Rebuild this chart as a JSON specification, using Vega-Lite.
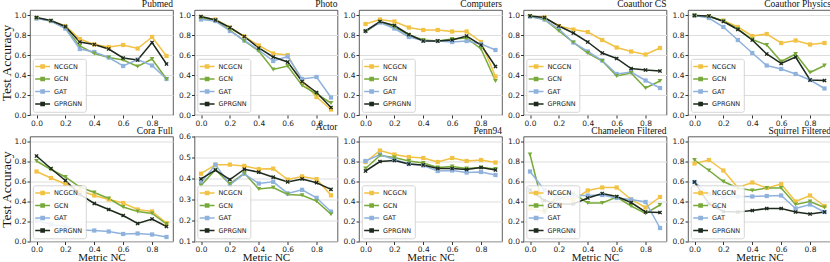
{
"$schema":"https://vega.github.io/schema/vega-lite/v6.json",
"padding":{"left":-2,"top":-2,"right":0,"bottom":0},
"datasets":{"d":[
{"d":"Pubmed","m":"NCGCN","x":0,"a":0.97},{"d":"Pubmed","m":"NCGCN","x":0.1,"a":0.94},{"d":"Pubmed","m":"NCGCN","x":0.2,"a":0.89},{"d":"Pubmed","m":"NCGCN","x":0.3,"a":0.76},{"d":"Pubmed","m":"NCGCN","x":0.4,"a":0.705},{"d":"Pubmed","m":"NCGCN","x":0.5,"a":0.68},{"d":"Pubmed","m":"NCGCN","x":0.6,"a":0.70},{"d":"Pubmed","m":"NCGCN","x":0.7,"a":0.665},{"d":"Pubmed","m":"NCGCN","x":0.8,"a":0.78},{"d":"Pubmed","m":"NCGCN","x":0.9,"a":0.59},
{"d":"Pubmed","m":"GCN","x":0,"a":0.97},{"d":"Pubmed","m":"GCN","x":0.1,"a":0.94},{"d":"Pubmed","m":"GCN","x":0.2,"a":0.87},{"d":"Pubmed","m":"GCN","x":0.3,"a":0.69},{"d":"Pubmed","m":"GCN","x":0.4,"a":0.615},{"d":"Pubmed","m":"GCN","x":0.5,"a":0.575},{"d":"Pubmed","m":"GCN","x":0.6,"a":0.55},{"d":"Pubmed","m":"GCN","x":0.7,"a":0.485},{"d":"Pubmed","m":"GCN","x":0.8,"a":0.56},{"d":"Pubmed","m":"GCN","x":0.9,"a":0.36},
{"d":"Pubmed","m":"GAT","x":0,"a":0.965},{"d":"Pubmed","m":"GAT","x":0.1,"a":0.94},{"d":"Pubmed","m":"GAT","x":0.2,"a":0.865},{"d":"Pubmed","m":"GAT","x":0.3,"a":0.66},{"d":"Pubmed","m":"GAT","x":0.4,"a":0.63},{"d":"Pubmed","m":"GAT","x":0.5,"a":0.575},{"d":"Pubmed","m":"GAT","x":0.6,"a":0.49},{"d":"Pubmed","m":"GAT","x":0.7,"a":0.555},{"d":"Pubmed","m":"GAT","x":0.8,"a":0.495},{"d":"Pubmed","m":"GAT","x":0.9,"a":0.36},
{"d":"Pubmed","m":"GPRGNN","x":0,"a":0.975},{"d":"Pubmed","m":"GPRGNN","x":0.1,"a":0.945},{"d":"Pubmed","m":"GPRGNN","x":0.2,"a":0.885},{"d":"Pubmed","m":"GPRGNN","x":0.3,"a":0.73},{"d":"Pubmed","m":"GPRGNN","x":0.4,"a":0.705},{"d":"Pubmed","m":"GPRGNN","x":0.5,"a":0.66},{"d":"Pubmed","m":"GPRGNN","x":0.6,"a":0.57},{"d":"Pubmed","m":"GPRGNN","x":0.7,"a":0.55},{"d":"Pubmed","m":"GPRGNN","x":0.8,"a":0.725},{"d":"Pubmed","m":"GPRGNN","x":0.9,"a":0.51},
{"d":"Photo","m":"NCGCN","x":0,"a":0.98},{"d":"Photo","m":"NCGCN","x":0.1,"a":0.955},{"d":"Photo","m":"NCGCN","x":0.2,"a":0.875},{"d":"Photo","m":"NCGCN","x":0.3,"a":0.785},{"d":"Photo","m":"NCGCN","x":0.4,"a":0.695},{"d":"Photo","m":"NCGCN","x":0.5,"a":0.615},{"d":"Photo","m":"NCGCN","x":0.6,"a":0.60},{"d":"Photo","m":"NCGCN","x":0.7,"a":0.34},{"d":"Photo","m":"NCGCN","x":0.8,"a":0.18},{"d":"Photo","m":"NCGCN","x":0.9,"a":0.055},
{"d":"Photo","m":"GCN","x":0,"a":0.97},{"d":"Photo","m":"GCN","x":0.1,"a":0.94},{"d":"Photo","m":"GCN","x":0.2,"a":0.85},{"d":"Photo","m":"GCN","x":0.3,"a":0.74},{"d":"Photo","m":"GCN","x":0.4,"a":0.64},{"d":"Photo","m":"GCN","x":0.5,"a":0.455},{"d":"Photo","m":"GCN","x":0.6,"a":0.49},{"d":"Photo","m":"GCN","x":0.7,"a":0.295},{"d":"Photo","m":"GCN","x":0.8,"a":0.21},{"d":"Photo","m":"GCN","x":0.9,"a":0.12},
{"d":"Photo","m":"GAT","x":0,"a":0.955},{"d":"Photo","m":"GAT","x":0.1,"a":0.94},{"d":"Photo","m":"GAT","x":0.2,"a":0.84},{"d":"Photo","m":"GAT","x":0.3,"a":0.745},{"d":"Photo","m":"GAT","x":0.4,"a":0.65},{"d":"Photo","m":"GAT","x":0.5,"a":0.54},{"d":"Photo","m":"GAT","x":0.6,"a":0.585},{"d":"Photo","m":"GAT","x":0.7,"a":0.36},{"d":"Photo","m":"GAT","x":0.8,"a":0.38},{"d":"Photo","m":"GAT","x":0.9,"a":0.175},
{"d":"Photo","m":"GPRGNN","x":0,"a":0.985},{"d":"Photo","m":"GPRGNN","x":0.1,"a":0.95},{"d":"Photo","m":"GPRGNN","x":0.2,"a":0.875},{"d":"Photo","m":"GPRGNN","x":0.3,"a":0.785},{"d":"Photo","m":"GPRGNN","x":0.4,"a":0.67},{"d":"Photo","m":"GPRGNN","x":0.5,"a":0.58},{"d":"Photo","m":"GPRGNN","x":0.6,"a":0.53},{"d":"Photo","m":"GPRGNN","x":0.7,"a":0.335},{"d":"Photo","m":"GPRGNN","x":0.8,"a":0.225},{"d":"Photo","m":"GPRGNN","x":0.9,"a":0.075},
{"d":"Computers","m":"NCGCN","x":0,"a":0.91},{"d":"Computers","m":"NCGCN","x":0.1,"a":0.955},{"d":"Computers","m":"NCGCN","x":0.2,"a":0.935},{"d":"Computers","m":"NCGCN","x":0.3,"a":0.875},{"d":"Computers","m":"NCGCN","x":0.4,"a":0.85},{"d":"Computers","m":"NCGCN","x":0.5,"a":0.85},{"d":"Computers","m":"NCGCN","x":0.6,"a":0.835},{"d":"Computers","m":"NCGCN","x":0.7,"a":0.835},{"d":"Computers","m":"NCGCN","x":0.8,"a":0.73},{"d":"Computers","m":"NCGCN","x":0.9,"a":0.385},
{"d":"Computers","m":"GCN","x":0,"a":0.83},{"d":"Computers","m":"GCN","x":0.1,"a":0.93},{"d":"Computers","m":"GCN","x":0.2,"a":0.88},{"d":"Computers","m":"GCN","x":0.3,"a":0.80},{"d":"Computers","m":"GCN","x":0.4,"a":0.75},{"d":"Computers","m":"GCN","x":0.5,"a":0.74},{"d":"Computers","m":"GCN","x":0.6,"a":0.76},{"d":"Computers","m":"GCN","x":0.7,"a":0.77},{"d":"Computers","m":"GCN","x":0.8,"a":0.66},{"d":"Computers","m":"GCN","x":0.9,"a":0.34},
{"d":"Computers","m":"GAT","x":0,"a":0.84},{"d":"Computers","m":"GAT","x":0.1,"a":0.925},{"d":"Computers","m":"GAT","x":0.2,"a":0.865},{"d":"Computers","m":"GAT","x":0.3,"a":0.78},{"d":"Computers","m":"GAT","x":0.4,"a":0.745},{"d":"Computers","m":"GAT","x":0.5,"a":0.74},{"d":"Computers","m":"GAT","x":0.6,"a":0.73},{"d":"Computers","m":"GAT","x":0.7,"a":0.74},{"d":"Computers","m":"GAT","x":0.8,"a":0.71},{"d":"Computers","m":"GAT","x":0.9,"a":0.65},
{"d":"Computers","m":"GPRGNN","x":0,"a":0.84},{"d":"Computers","m":"GPRGNN","x":0.1,"a":0.935},{"d":"Computers","m":"GPRGNN","x":0.2,"a":0.895},{"d":"Computers","m":"GPRGNN","x":0.3,"a":0.805},{"d":"Computers","m":"GPRGNN","x":0.4,"a":0.74},{"d":"Computers","m":"GPRGNN","x":0.5,"a":0.74},{"d":"Computers","m":"GPRGNN","x":0.6,"a":0.75},{"d":"Computers","m":"GPRGNN","x":0.7,"a":0.79},{"d":"Computers","m":"GPRGNN","x":0.8,"a":0.70},{"d":"Computers","m":"GPRGNN","x":0.9,"a":0.485},
{"d":"Coauthor CS","m":"NCGCN","x":0,"a":0.99},{"d":"Coauthor CS","m":"NCGCN","x":0.1,"a":0.975},{"d":"Coauthor CS","m":"NCGCN","x":0.2,"a":0.89},{"d":"Coauthor CS","m":"NCGCN","x":0.3,"a":0.855},{"d":"Coauthor CS","m":"NCGCN","x":0.4,"a":0.83},{"d":"Coauthor CS","m":"NCGCN","x":0.5,"a":0.75},{"d":"Coauthor CS","m":"NCGCN","x":0.6,"a":0.675},{"d":"Coauthor CS","m":"NCGCN","x":0.7,"a":0.635},{"d":"Coauthor CS","m":"NCGCN","x":0.8,"a":0.605},{"d":"Coauthor CS","m":"NCGCN","x":0.9,"a":0.67},
{"d":"Coauthor CS","m":"GCN","x":0,"a":0.985},{"d":"Coauthor CS","m":"GCN","x":0.1,"a":0.955},{"d":"Coauthor CS","m":"GCN","x":0.2,"a":0.84},{"d":"Coauthor CS","m":"GCN","x":0.3,"a":0.725},{"d":"Coauthor CS","m":"GCN","x":0.4,"a":0.62},{"d":"Coauthor CS","m":"GCN","x":0.5,"a":0.54},{"d":"Coauthor CS","m":"GCN","x":0.6,"a":0.39},{"d":"Coauthor CS","m":"GCN","x":0.7,"a":0.42},{"d":"Coauthor CS","m":"GCN","x":0.8,"a":0.27},{"d":"Coauthor CS","m":"GCN","x":0.9,"a":0.34},
{"d":"Coauthor CS","m":"GAT","x":0,"a":0.985},{"d":"Coauthor CS","m":"GAT","x":0.1,"a":0.955},{"d":"Coauthor CS","m":"GAT","x":0.2,"a":0.86},{"d":"Coauthor CS","m":"GAT","x":0.3,"a":0.725},{"d":"Coauthor CS","m":"GAT","x":0.4,"a":0.635},{"d":"Coauthor CS","m":"GAT","x":0.5,"a":0.545},{"d":"Coauthor CS","m":"GAT","x":0.6,"a":0.41},{"d":"Coauthor CS","m":"GAT","x":0.7,"a":0.43},{"d":"Coauthor CS","m":"GAT","x":0.8,"a":0.345},{"d":"Coauthor CS","m":"GAT","x":0.9,"a":0.27},
{"d":"Coauthor CS","m":"GPRGNN","x":0,"a":0.99},{"d":"Coauthor CS","m":"GPRGNN","x":0.1,"a":0.975},{"d":"Coauthor CS","m":"GPRGNN","x":0.2,"a":0.89},{"d":"Coauthor CS","m":"GPRGNN","x":0.3,"a":0.82},{"d":"Coauthor CS","m":"GPRGNN","x":0.4,"a":0.73},{"d":"Coauthor CS","m":"GPRGNN","x":0.5,"a":0.62},{"d":"Coauthor CS","m":"GPRGNN","x":0.6,"a":0.565},{"d":"Coauthor CS","m":"GPRGNN","x":0.7,"a":0.465},{"d":"Coauthor CS","m":"GPRGNN","x":0.8,"a":0.45},{"d":"Coauthor CS","m":"GPRGNN","x":0.9,"a":0.44},
{"d":"Coauthor Physics","m":"NCGCN","x":0,"a":0.995},{"d":"Coauthor Physics","m":"NCGCN","x":0.1,"a":0.985},{"d":"Coauthor Physics","m":"NCGCN","x":0.2,"a":0.945},{"d":"Coauthor Physics","m":"NCGCN","x":0.3,"a":0.88},{"d":"Coauthor Physics","m":"NCGCN","x":0.4,"a":0.79},{"d":"Coauthor Physics","m":"NCGCN","x":0.5,"a":0.81},{"d":"Coauthor Physics","m":"NCGCN","x":0.6,"a":0.72},{"d":"Coauthor Physics","m":"NCGCN","x":0.7,"a":0.745},{"d":"Coauthor Physics","m":"NCGCN","x":0.8,"a":0.705},{"d":"Coauthor Physics","m":"NCGCN","x":0.9,"a":0.72},
{"d":"Coauthor Physics","m":"GCN","x":0,"a":0.995},{"d":"Coauthor Physics","m":"GCN","x":0.1,"a":0.985},{"d":"Coauthor Physics","m":"GCN","x":0.2,"a":0.94},{"d":"Coauthor Physics","m":"GCN","x":0.3,"a":0.86},{"d":"Coauthor Physics","m":"GCN","x":0.4,"a":0.755},{"d":"Coauthor Physics","m":"GCN","x":0.5,"a":0.70},{"d":"Coauthor Physics","m":"GCN","x":0.6,"a":0.535},{"d":"Coauthor Physics","m":"GCN","x":0.7,"a":0.61},{"d":"Coauthor Physics","m":"GCN","x":0.8,"a":0.425},{"d":"Coauthor Physics","m":"GCN","x":0.9,"a":0.495},
{"d":"Coauthor Physics","m":"GAT","x":0,"a":0.995},{"d":"Coauthor Physics","m":"GAT","x":0.1,"a":0.97},{"d":"Coauthor Physics","m":"GAT","x":0.2,"a":0.88},{"d":"Coauthor Physics","m":"GAT","x":0.3,"a":0.75},{"d":"Coauthor Physics","m":"GAT","x":0.4,"a":0.62},{"d":"Coauthor Physics","m":"GAT","x":0.5,"a":0.495},{"d":"Coauthor Physics","m":"GAT","x":0.6,"a":0.46},{"d":"Coauthor Physics","m":"GAT","x":0.7,"a":0.41},{"d":"Coauthor Physics","m":"GAT","x":0.8,"a":0.35},{"d":"Coauthor Physics","m":"GAT","x":0.9,"a":0.265},
{"d":"Coauthor Physics","m":"GPRGNN","x":0,"a":0.995},{"d":"Coauthor Physics","m":"GPRGNN","x":0.1,"a":0.99},{"d":"Coauthor Physics","m":"GPRGNN","x":0.2,"a":0.935},{"d":"Coauthor Physics","m":"GPRGNN","x":0.3,"a":0.855},{"d":"Coauthor Physics","m":"GPRGNN","x":0.4,"a":0.75},{"d":"Coauthor Physics","m":"GPRGNN","x":0.5,"a":0.61},{"d":"Coauthor Physics","m":"GPRGNN","x":0.6,"a":0.515},{"d":"Coauthor Physics","m":"GPRGNN","x":0.7,"a":0.58},{"d":"Coauthor Physics","m":"GPRGNN","x":0.8,"a":0.35},{"d":"Coauthor Physics","m":"GPRGNN","x":0.9,"a":0.345},
{"d":"Cora Full","m":"NCGCN","x":0,"a":0.70},{"d":"Cora Full","m":"NCGCN","x":0.1,"a":0.635},{"d":"Cora Full","m":"NCGCN","x":0.2,"a":0.575},{"d":"Cora Full","m":"NCGCN","x":0.3,"a":0.51},{"d":"Cora Full","m":"NCGCN","x":0.4,"a":0.46},{"d":"Cora Full","m":"NCGCN","x":0.5,"a":0.42},{"d":"Cora Full","m":"NCGCN","x":0.6,"a":0.385},{"d":"Cora Full","m":"NCGCN","x":0.7,"a":0.32},{"d":"Cora Full","m":"NCGCN","x":0.8,"a":0.30},{"d":"Cora Full","m":"NCGCN","x":0.9,"a":0.185},
{"d":"Cora Full","m":"GCN","x":0,"a":0.805},{"d":"Cora Full","m":"GCN","x":0.1,"a":0.72},{"d":"Cora Full","m":"GCN","x":0.2,"a":0.645},{"d":"Cora Full","m":"GCN","x":0.3,"a":0.545},{"d":"Cora Full","m":"GCN","x":0.4,"a":0.49},{"d":"Cora Full","m":"GCN","x":0.5,"a":0.43},{"d":"Cora Full","m":"GCN","x":0.6,"a":0.345},{"d":"Cora Full","m":"GCN","x":0.7,"a":0.30},{"d":"Cora Full","m":"GCN","x":0.8,"a":0.28},{"d":"Cora Full","m":"GCN","x":0.9,"a":0.175},
{"d":"Cora Full","m":"GAT","x":0,"a":0.21},{"d":"Cora Full","m":"GAT","x":0.1,"a":0.17},{"d":"Cora Full","m":"GAT","x":0.2,"a":0.15},{"d":"Cora Full","m":"GAT","x":0.3,"a":0.115},{"d":"Cora Full","m":"GAT","x":0.4,"a":0.11},{"d":"Cora Full","m":"GAT","x":0.5,"a":0.10},{"d":"Cora Full","m":"GAT","x":0.6,"a":0.075},{"d":"Cora Full","m":"GAT","x":0.7,"a":0.08},{"d":"Cora Full","m":"GAT","x":0.8,"a":0.07},{"d":"Cora Full","m":"GAT","x":0.9,"a":0.045},
{"d":"Cora Full","m":"GPRGNN","x":0,"a":0.855},{"d":"Cora Full","m":"GPRGNN","x":0.1,"a":0.73},{"d":"Cora Full","m":"GPRGNN","x":0.2,"a":0.61},{"d":"Cora Full","m":"GPRGNN","x":0.3,"a":0.47},{"d":"Cora Full","m":"GPRGNN","x":0.4,"a":0.38},{"d":"Cora Full","m":"GPRGNN","x":0.5,"a":0.32},{"d":"Cora Full","m":"GPRGNN","x":0.6,"a":0.26},{"d":"Cora Full","m":"GPRGNN","x":0.7,"a":0.18},{"d":"Cora Full","m":"GPRGNN","x":0.8,"a":0.225},{"d":"Cora Full","m":"GPRGNN","x":0.9,"a":0.15},
{"d":"Actor","m":"NCGCN","x":0,"a":0.423},{"d":"Actor","m":"NCGCN","x":0.1,"a":0.466},{"d":"Actor","m":"NCGCN","x":0.2,"a":0.466},{"d":"Actor","m":"NCGCN","x":0.3,"a":0.46},{"d":"Actor","m":"NCGCN","x":0.4,"a":0.445},{"d":"Actor","m":"NCGCN","x":0.5,"a":0.447},{"d":"Actor","m":"NCGCN","x":0.6,"a":0.395},{"d":"Actor","m":"NCGCN","x":0.7,"a":0.41},{"d":"Actor","m":"NCGCN","x":0.8,"a":0.397},{"d":"Actor","m":"NCGCN","x":0.9,"a":0.32},
{"d":"Actor","m":"GCN","x":0,"a":0.367},{"d":"Actor","m":"GCN","x":0.1,"a":0.442},{"d":"Actor","m":"GCN","x":0.2,"a":0.374},{"d":"Actor","m":"GCN","x":0.3,"a":0.425},{"d":"Actor","m":"GCN","x":0.4,"a":0.35},{"d":"Actor","m":"GCN","x":0.5,"a":0.357},{"d":"Actor","m":"GCN","x":0.6,"a":0.324},{"d":"Actor","m":"GCN","x":0.7,"a":0.32},{"d":"Actor","m":"GCN","x":0.8,"a":0.292},{"d":"Actor","m":"GCN","x":0.9,"a":0.23},
{"d":"Actor","m":"GAT","x":0,"a":0.38},{"d":"Actor","m":"GAT","x":0.1,"a":0.466},{"d":"Actor","m":"GAT","x":0.2,"a":0.37},{"d":"Actor","m":"GAT","x":0.3,"a":0.422},{"d":"Actor","m":"GAT","x":0.4,"a":0.376},{"d":"Actor","m":"GAT","x":0.5,"a":0.384},{"d":"Actor","m":"GAT","x":0.6,"a":0.329},{"d":"Actor","m":"GAT","x":0.7,"a":0.346},{"d":"Actor","m":"GAT","x":0.8,"a":0.308},{"d":"Actor","m":"GAT","x":0.9,"a":0.242},
{"d":"Actor","m":"GPRGNN","x":0,"a":0.398},{"d":"Actor","m":"GPRGNN","x":0.1,"a":0.44},{"d":"Actor","m":"GPRGNN","x":0.2,"a":0.395},{"d":"Actor","m":"GPRGNN","x":0.3,"a":0.444},{"d":"Actor","m":"GPRGNN","x":0.4,"a":0.43},{"d":"Actor","m":"GPRGNN","x":0.5,"a":0.406},{"d":"Actor","m":"GPRGNN","x":0.6,"a":0.384},{"d":"Actor","m":"GPRGNN","x":0.7,"a":0.398},{"d":"Actor","m":"GPRGNN","x":0.8,"a":0.38},{"d":"Actor","m":"GPRGNN","x":0.9,"a":0.348},
{"d":"Penn94","m":"NCGCN","x":0,"a":0.795},{"d":"Penn94","m":"NCGCN","x":0.1,"a":0.91},{"d":"Penn94","m":"NCGCN","x":0.2,"a":0.87},{"d":"Penn94","m":"NCGCN","x":0.3,"a":0.845},{"d":"Penn94","m":"NCGCN","x":0.4,"a":0.835},{"d":"Penn94","m":"NCGCN","x":0.5,"a":0.795},{"d":"Penn94","m":"NCGCN","x":0.6,"a":0.835},{"d":"Penn94","m":"NCGCN","x":0.7,"a":0.805},{"d":"Penn94","m":"NCGCN","x":0.8,"a":0.815},{"d":"Penn94","m":"NCGCN","x":0.9,"a":0.79},
{"d":"Penn94","m":"GCN","x":0,"a":0.73},{"d":"Penn94","m":"GCN","x":0.1,"a":0.86},{"d":"Penn94","m":"GCN","x":0.2,"a":0.84},{"d":"Penn94","m":"GCN","x":0.3,"a":0.805},{"d":"Penn94","m":"GCN","x":0.4,"a":0.785},{"d":"Penn94","m":"GCN","x":0.5,"a":0.74},{"d":"Penn94","m":"GCN","x":0.6,"a":0.75},{"d":"Penn94","m":"GCN","x":0.7,"a":0.73},{"d":"Penn94","m":"GCN","x":0.8,"a":0.74},{"d":"Penn94","m":"GCN","x":0.9,"a":0.725},
{"d":"Penn94","m":"GAT","x":0,"a":0.805},{"d":"Penn94","m":"GAT","x":0.1,"a":0.87},{"d":"Penn94","m":"GAT","x":0.2,"a":0.82},{"d":"Penn94","m":"GAT","x":0.3,"a":0.775},{"d":"Penn94","m":"GAT","x":0.4,"a":0.76},{"d":"Penn94","m":"GAT","x":0.5,"a":0.705},{"d":"Penn94","m":"GAT","x":0.6,"a":0.71},{"d":"Penn94","m":"GAT","x":0.7,"a":0.69},{"d":"Penn94","m":"GAT","x":0.8,"a":0.695},{"d":"Penn94","m":"GAT","x":0.9,"a":0.665},
{"d":"Penn94","m":"GPRGNN","x":0,"a":0.705},{"d":"Penn94","m":"GPRGNN","x":0.1,"a":0.80},{"d":"Penn94","m":"GPRGNN","x":0.2,"a":0.81},{"d":"Penn94","m":"GPRGNN","x":0.3,"a":0.775},{"d":"Penn94","m":"GPRGNN","x":0.4,"a":0.765},{"d":"Penn94","m":"GPRGNN","x":0.5,"a":0.73},{"d":"Penn94","m":"GPRGNN","x":0.6,"a":0.73},{"d":"Penn94","m":"GPRGNN","x":0.7,"a":0.72},{"d":"Penn94","m":"GPRGNN","x":0.8,"a":0.74},{"d":"Penn94","m":"GPRGNN","x":0.9,"a":0.715},
{"d":"Chameleon Filtered","m":"NCGCN","x":0,"a":0.33},{"d":"Chameleon Filtered","m":"NCGCN","x":0.1,"a":0.30},{"d":"Chameleon Filtered","m":"NCGCN","x":0.2,"a":0.435},{"d":"Chameleon Filtered","m":"NCGCN","x":0.3,"a":0.415},{"d":"Chameleon Filtered","m":"NCGCN","x":0.4,"a":0.51},{"d":"Chameleon Filtered","m":"NCGCN","x":0.5,"a":0.54},{"d":"Chameleon Filtered","m":"NCGCN","x":0.6,"a":0.54},{"d":"Chameleon Filtered","m":"NCGCN","x":0.7,"a":0.42},{"d":"Chameleon Filtered","m":"NCGCN","x":0.8,"a":0.34},{"d":"Chameleon Filtered","m":"NCGCN","x":0.9,"a":0.445},
{"d":"Chameleon Filtered","m":"GCN","x":0,"a":0.87},{"d":"Chameleon Filtered","m":"GCN","x":0.1,"a":0.30},{"d":"Chameleon Filtered","m":"GCN","x":0.2,"a":0.48},{"d":"Chameleon Filtered","m":"GCN","x":0.3,"a":0.48},{"d":"Chameleon Filtered","m":"GCN","x":0.4,"a":0.385},{"d":"Chameleon Filtered","m":"GCN","x":0.5,"a":0.385},{"d":"Chameleon Filtered","m":"GCN","x":0.6,"a":0.445},{"d":"Chameleon Filtered","m":"GCN","x":0.7,"a":0.355},{"d":"Chameleon Filtered","m":"GCN","x":0.8,"a":0.28},{"d":"Chameleon Filtered","m":"GCN","x":0.9,"a":0.365},
{"d":"Chameleon Filtered","m":"GAT","x":0,"a":0.70},{"d":"Chameleon Filtered","m":"GAT","x":0.1,"a":0.515},{"d":"Chameleon Filtered","m":"GAT","x":0.2,"a":0.43},{"d":"Chameleon Filtered","m":"GAT","x":0.3,"a":0.46},{"d":"Chameleon Filtered","m":"GAT","x":0.4,"a":0.46},{"d":"Chameleon Filtered","m":"GAT","x":0.5,"a":0.465},{"d":"Chameleon Filtered","m":"GAT","x":0.6,"a":0.435},{"d":"Chameleon Filtered","m":"GAT","x":0.7,"a":0.42},{"d":"Chameleon Filtered","m":"GAT","x":0.8,"a":0.395},{"d":"Chameleon Filtered","m":"GAT","x":0.9,"a":0.135},
{"d":"Chameleon Filtered","m":"GPRGNN","x":0,"a":0.515},{"d":"Chameleon Filtered","m":"GPRGNN","x":0.1,"a":0.41},{"d":"Chameleon Filtered","m":"GPRGNN","x":0.2,"a":0.375},{"d":"Chameleon Filtered","m":"GPRGNN","x":0.3,"a":0.375},{"d":"Chameleon Filtered","m":"GPRGNN","x":0.4,"a":0.435},{"d":"Chameleon Filtered","m":"GPRGNN","x":0.5,"a":0.48},{"d":"Chameleon Filtered","m":"GPRGNN","x":0.6,"a":0.45},{"d":"Chameleon Filtered","m":"GPRGNN","x":0.7,"a":0.39},{"d":"Chameleon Filtered","m":"GPRGNN","x":0.8,"a":0.295},{"d":"Chameleon Filtered","m":"GPRGNN","x":0.9,"a":0.29},
{"d":"Squirrel Filtered","m":"NCGCN","x":0,"a":0.78},{"d":"Squirrel Filtered","m":"NCGCN","x":0.1,"a":0.815},{"d":"Squirrel Filtered","m":"NCGCN","x":0.2,"a":0.71},{"d":"Squirrel Filtered","m":"NCGCN","x":0.3,"a":0.54},{"d":"Squirrel Filtered","m":"NCGCN","x":0.4,"a":0.59},{"d":"Squirrel Filtered","m":"NCGCN","x":0.5,"a":0.535},{"d":"Squirrel Filtered","m":"NCGCN","x":0.6,"a":0.575},{"d":"Squirrel Filtered","m":"NCGCN","x":0.7,"a":0.40},{"d":"Squirrel Filtered","m":"NCGCN","x":0.8,"a":0.46},{"d":"Squirrel Filtered","m":"NCGCN","x":0.9,"a":0.355},
{"d":"Squirrel Filtered","m":"GCN","x":0,"a":0.815},{"d":"Squirrel Filtered","m":"GCN","x":0.1,"a":0.71},{"d":"Squirrel Filtered","m":"GCN","x":0.2,"a":0.60},{"d":"Squirrel Filtered","m":"GCN","x":0.3,"a":0.535},{"d":"Squirrel Filtered","m":"GCN","x":0.4,"a":0.51},{"d":"Squirrel Filtered","m":"GCN","x":0.5,"a":0.535},{"d":"Squirrel Filtered","m":"GCN","x":0.6,"a":0.535},{"d":"Squirrel Filtered","m":"GCN","x":0.7,"a":0.37},{"d":"Squirrel Filtered","m":"GCN","x":0.8,"a":0.40},{"d":"Squirrel Filtered","m":"GCN","x":0.9,"a":0.34},
{"d":"Squirrel Filtered","m":"GAT","x":0,"a":0.595},{"d":"Squirrel Filtered","m":"GAT","x":0.1,"a":0.475},{"d":"Squirrel Filtered","m":"GAT","x":0.2,"a":0.445},{"d":"Squirrel Filtered","m":"GAT","x":0.3,"a":0.45},{"d":"Squirrel Filtered","m":"GAT","x":0.4,"a":0.45},{"d":"Squirrel Filtered","m":"GAT","x":0.5,"a":0.455},{"d":"Squirrel Filtered","m":"GAT","x":0.6,"a":0.46},{"d":"Squirrel Filtered","m":"GAT","x":0.7,"a":0.33},{"d":"Squirrel Filtered","m":"GAT","x":0.8,"a":0.37},{"d":"Squirrel Filtered","m":"GAT","x":0.9,"a":0.295},
{"d":"Squirrel Filtered","m":"GPRGNN","x":0,"a":0.595},{"d":"Squirrel Filtered","m":"GPRGNN","x":0.1,"a":0.375},{"d":"Squirrel Filtered","m":"GPRGNN","x":0.2,"a":0.30},{"d":"Squirrel Filtered","m":"GPRGNN","x":0.3,"a":0.295},{"d":"Squirrel Filtered","m":"GPRGNN","x":0.4,"a":0.31},{"d":"Squirrel Filtered","m":"GPRGNN","x":0.5,"a":0.33},{"d":"Squirrel Filtered","m":"GPRGNN","x":0.6,"a":0.33},{"d":"Squirrel Filtered","m":"GPRGNN","x":0.7,"a":0.295},{"d":"Squirrel Filtered","m":"GPRGNN","x":0.8,"a":0.275},{"d":"Squirrel Filtered","m":"GPRGNN","x":0.9,"a":0.295}
]},
"data":{"name":"d"},
"config":{
 "view":{"stroke":"#333333","strokeWidth":0.8},
 "font":"DejaVu Sans",
 "axis":{"labelFont":"DejaVu Sans","labelFontSize":7.5,"labelColor":"#222222","tickColor":"#333333","tickSize":3,"domain":false,"titleFont":"Liberation Serif","titleFontSize":12,"titleFontWeight":"normal","titleColor":"#111111","labelPadding":1},
 "axisY":{"grid":true,"gridColor":"#dddddd","gridWidth":1.2,"titlePadding":1,"titleFontSize":13.5},
 "axisX":{"grid":false,"titlePadding":-1.5,"titleFontSize":11},
 "title":{"font":"Liberation Serif","fontSize":9.5,"fontWeight":"normal","anchor":"end","offset":1.5,"color":"#111111"},
 "point":{"filled":true,"opacity":1,"size":18},
 "legend":{"orient":"bottom-left","offset":3,"padding":3,"fillColor":"rgba(255,255,255,0.85)","strokeColor":"#cccccc","strokeWidth":0.8,"cornerRadius":2,"labelFont":"DejaVu Sans","labelFontSize":6.5,"labelColor":"#222222","rowPadding":1.5,"symbolSize":50,"symbolType":"M-1.5,0H2.7M0.15,-0.45H1.05V-0.25H0.15V-0.05H1.05V0.15H0.15V0.35H1.05V0.45H0.15Z","symbolStrokeWidth":1.5,"labelOffset":9}
},
"resolve":{"scale":{"color":"independent"},"legend":{"color":"independent"}},
"columns":5,"spacing":{"row":21.5,"column":21.5},"bounds":"flush",
"concat":[
{"title":"Pubmed","width":143,"height":105,"transform":[{"filter":"datum.d === 'Pubmed'"}],
 "encoding":{"x":{"field":"x","type":"quantitative","scale":{"domain":[-0.045,0.945],"nice":false,"zero":false},"axis":{"values":[0,0.2,0.4,0.6,0.8],"format":".1f","title":null}},
  "y":{"field":"a","type":"quantitative","scale":{"domain":[0,1.05],"nice":false,"zero":false},"axis":{"values":[0,0.2,0.4,0.6,0.8,1],"format":".1f","title":"Test Accuracy"}},
  "color":{"field":"m","type":"nominal","scale":{"domain":["NCGCN","GCN","GAT","GPRGNN"],"range":["#F2C244","#78AA3A","#8FB2DD","#1E2A1E"]},"legend":null}},
 "layer":[{"mark":{"type":"line","strokeWidth":1.5},"encoding":{"color":{"field":"m","type":"nominal","scale":{"domain":["NCGCN","GCN","GAT","GPRGNN"],"range":["#F2C244","#78AA3A","#8FB2DD","#1E2A1E"]},"legend":{"title":null}}}},
  {"transform":[{"filter":"datum.m === 'NCGCN' || datum.m === 'GAT'"}],"mark":{"type":"point","shape":"square"}},
  {"transform":[{"filter":"datum.m === 'GCN'"}],"mark":{"type":"point","shape":"triangle-down","size":22}},
  {"transform":[{"filter":"datum.m === 'GPRGNN'"}],"mark":{"type":"point","shape":"M-1,-0.55L-0.55,-1L0,-0.45L0.55,-1L1,-0.55L0.45,0L1,0.55L0.55,1L0,0.45L-0.55,1L-1,0.55L-0.45,0Z"}}]},
{"title":"Photo","width":143,"height":105,"transform":[{"filter":"datum.d === 'Photo'"}],
 "encoding":{"x":{"field":"x","type":"quantitative","scale":{"domain":[-0.045,0.945],"nice":false,"zero":false},"axis":{"values":[0,0.2,0.4,0.6,0.8],"format":".1f","title":null}},
  "y":{"field":"a","type":"quantitative","scale":{"domain":[0,1.05],"nice":false,"zero":false},"axis":{"values":[0,0.2,0.4,0.6,0.8,1],"format":".1f","title":null}},
  "color":{"field":"m","type":"nominal","scale":{"domain":["NCGCN","GCN","GAT","GPRGNN"],"range":["#F2C244","#78AA3A","#8FB2DD","#1E2A1E"]},"legend":null}},
 "layer":[{"mark":{"type":"line","strokeWidth":1.5},"encoding":{"color":{"field":"m","type":"nominal","scale":{"domain":["NCGCN","GCN","GAT","GPRGNN"],"range":["#F2C244","#78AA3A","#8FB2DD","#1E2A1E"]},"legend":{"title":null}}}},
  {"transform":[{"filter":"datum.m === 'NCGCN' || datum.m === 'GAT'"}],"mark":{"type":"point","shape":"square"}},
  {"transform":[{"filter":"datum.m === 'GCN'"}],"mark":{"type":"point","shape":"triangle-down","size":22}},
  {"transform":[{"filter":"datum.m === 'GPRGNN'"}],"mark":{"type":"point","shape":"M-1,-0.55L-0.55,-1L0,-0.45L0.55,-1L1,-0.55L0.45,0L1,0.55L0.55,1L0,0.45L-0.55,1L-1,0.55L-0.45,0Z"}}]},
{"title":"Computers","width":143,"height":105,"transform":[{"filter":"datum.d === 'Computers'"}],
 "encoding":{"x":{"field":"x","type":"quantitative","scale":{"domain":[-0.045,0.945],"nice":false,"zero":false},"axis":{"values":[0,0.2,0.4,0.6,0.8],"format":".1f","title":null}},
  "y":{"field":"a","type":"quantitative","scale":{"domain":[0,1.05],"nice":false,"zero":false},"axis":{"values":[0,0.2,0.4,0.6,0.8,1],"format":".1f","title":null}},
  "color":{"field":"m","type":"nominal","scale":{"domain":["NCGCN","GCN","GAT","GPRGNN"],"range":["#F2C244","#78AA3A","#8FB2DD","#1E2A1E"]},"legend":null}},
 "layer":[{"mark":{"type":"line","strokeWidth":1.5},"encoding":{"color":{"field":"m","type":"nominal","scale":{"domain":["NCGCN","GCN","GAT","GPRGNN"],"range":["#F2C244","#78AA3A","#8FB2DD","#1E2A1E"]},"legend":{"title":null}}}},
  {"transform":[{"filter":"datum.m === 'NCGCN' || datum.m === 'GAT'"}],"mark":{"type":"point","shape":"square"}},
  {"transform":[{"filter":"datum.m === 'GCN'"}],"mark":{"type":"point","shape":"triangle-down","size":22}},
  {"transform":[{"filter":"datum.m === 'GPRGNN'"}],"mark":{"type":"point","shape":"M-1,-0.55L-0.55,-1L0,-0.45L0.55,-1L1,-0.55L0.45,0L1,0.55L0.55,1L0,0.45L-0.55,1L-1,0.55L-0.45,0Z"}}]},
{"title":"Coauthor CS","width":143,"height":105,"transform":[{"filter":"datum.d === 'Coauthor CS'"}],
 "encoding":{"x":{"field":"x","type":"quantitative","scale":{"domain":[-0.045,0.945],"nice":false,"zero":false},"axis":{"values":[0,0.2,0.4,0.6,0.8],"format":".1f","title":null}},
  "y":{"field":"a","type":"quantitative","scale":{"domain":[0,1.05],"nice":false,"zero":false},"axis":{"values":[0,0.2,0.4,0.6,0.8,1],"format":".1f","title":null}},
  "color":{"field":"m","type":"nominal","scale":{"domain":["NCGCN","GCN","GAT","GPRGNN"],"range":["#F2C244","#78AA3A","#8FB2DD","#1E2A1E"]},"legend":null}},
 "layer":[{"mark":{"type":"line","strokeWidth":1.5},"encoding":{"color":{"field":"m","type":"nominal","scale":{"domain":["NCGCN","GCN","GAT","GPRGNN"],"range":["#F2C244","#78AA3A","#8FB2DD","#1E2A1E"]},"legend":{"title":null}}}},
  {"transform":[{"filter":"datum.m === 'NCGCN' || datum.m === 'GAT'"}],"mark":{"type":"point","shape":"square"}},
  {"transform":[{"filter":"datum.m === 'GCN'"}],"mark":{"type":"point","shape":"triangle-down","size":22}},
  {"transform":[{"filter":"datum.m === 'GPRGNN'"}],"mark":{"type":"point","shape":"M-1,-0.55L-0.55,-1L0,-0.45L0.55,-1L1,-0.55L0.45,0L1,0.55L0.55,1L0,0.45L-0.55,1L-1,0.55L-0.45,0Z"}}]},
{"title":"Coauthor Physics","width":143,"height":105,"transform":[{"filter":"datum.d === 'Coauthor Physics'"}],
 "encoding":{"x":{"field":"x","type":"quantitative","scale":{"domain":[-0.045,0.945],"nice":false,"zero":false},"axis":{"values":[0,0.2,0.4,0.6,0.8],"format":".1f","title":null}},
  "y":{"field":"a","type":"quantitative","scale":{"domain":[0,1.05],"nice":false,"zero":false},"axis":{"values":[0,0.2,0.4,0.6,0.8,1],"format":".1f","title":null}},
  "color":{"field":"m","type":"nominal","scale":{"domain":["NCGCN","GCN","GAT","GPRGNN"],"range":["#F2C244","#78AA3A","#8FB2DD","#1E2A1E"]},"legend":null}},
 "layer":[{"mark":{"type":"line","strokeWidth":1.5},"encoding":{"color":{"field":"m","type":"nominal","scale":{"domain":["NCGCN","GCN","GAT","GPRGNN"],"range":["#F2C244","#78AA3A","#8FB2DD","#1E2A1E"]},"legend":{"title":null}}}},
  {"transform":[{"filter":"datum.m === 'NCGCN' || datum.m === 'GAT'"}],"mark":{"type":"point","shape":"square"}},
  {"transform":[{"filter":"datum.m === 'GCN'"}],"mark":{"type":"point","shape":"triangle-down","size":22}},
  {"transform":[{"filter":"datum.m === 'GPRGNN'"}],"mark":{"type":"point","shape":"M-1,-0.55L-0.55,-1L0,-0.45L0.55,-1L1,-0.55L0.45,0L1,0.55L0.55,1L0,0.45L-0.55,1L-1,0.55L-0.45,0Z"}}]},
{"title":"Cora Full","width":143,"height":105,"transform":[{"filter":"datum.d === 'Cora Full'"}],
 "encoding":{"x":{"field":"x","type":"quantitative","scale":{"domain":[-0.045,0.945],"nice":false,"zero":false},"axis":{"values":[0,0.2,0.4,0.6,0.8],"format":".1f","title":"Metric NC"}},
  "y":{"field":"a","type":"quantitative","scale":{"domain":[0,1.05],"nice":false,"zero":false},"axis":{"values":[0,0.2,0.4,0.6,0.8,1],"format":".1f","title":"Test Accuracy"}},
  "color":{"field":"m","type":"nominal","scale":{"domain":["NCGCN","GCN","GAT","GPRGNN"],"range":["#F2C244","#78AA3A","#8FB2DD","#1E2A1E"]},"legend":null}},
 "layer":[{"mark":{"type":"line","strokeWidth":1.5},"encoding":{"color":{"field":"m","type":"nominal","scale":{"domain":["NCGCN","GCN","GAT","GPRGNN"],"range":["#F2C244","#78AA3A","#8FB2DD","#1E2A1E"]},"legend":{"title":null}}}},
  {"transform":[{"filter":"datum.m === 'NCGCN' || datum.m === 'GAT'"}],"mark":{"type":"point","shape":"square"}},
  {"transform":[{"filter":"datum.m === 'GCN'"}],"mark":{"type":"point","shape":"triangle-down","size":22}},
  {"transform":[{"filter":"datum.m === 'GPRGNN'"}],"mark":{"type":"point","shape":"M-1,-0.55L-0.55,-1L0,-0.45L0.55,-1L1,-0.55L0.45,0L1,0.55L0.55,1L0,0.45L-0.55,1L-1,0.55L-0.45,0Z"}}]},
{"title":"Actor","width":143,"height":105,"transform":[{"filter":"datum.d === 'Actor'"}],
 "encoding":{"x":{"field":"x","type":"quantitative","scale":{"domain":[-0.045,0.945],"nice":false,"zero":false},"axis":{"values":[0,0.2,0.4,0.6,0.8],"format":".1f","title":"Metric NC"}},
  "y":{"field":"a","type":"quantitative","scale":{"domain":[0.1,0.6],"nice":false,"zero":false},"axis":{"values":[0.1,0.2,0.3,0.4,0.5,0.6],"format":".1f","title":null}},
  "color":{"field":"m","type":"nominal","scale":{"domain":["NCGCN","GCN","GAT","GPRGNN"],"range":["#F2C244","#78AA3A","#8FB2DD","#1E2A1E"]},"legend":null}},
 "layer":[{"mark":{"type":"line","strokeWidth":1.5},"encoding":{"color":{"field":"m","type":"nominal","scale":{"domain":["NCGCN","GCN","GAT","GPRGNN"],"range":["#F2C244","#78AA3A","#8FB2DD","#1E2A1E"]},"legend":{"title":null}}}},
  {"transform":[{"filter":"datum.m === 'NCGCN' || datum.m === 'GAT'"}],"mark":{"type":"point","shape":"square"}},
  {"transform":[{"filter":"datum.m === 'GCN'"}],"mark":{"type":"point","shape":"triangle-down","size":22}},
  {"transform":[{"filter":"datum.m === 'GPRGNN'"}],"mark":{"type":"point","shape":"M-1,-0.55L-0.55,-1L0,-0.45L0.55,-1L1,-0.55L0.45,0L1,0.55L0.55,1L0,0.45L-0.55,1L-1,0.55L-0.45,0Z"}}]},
{"title":"Penn94","width":143,"height":105,"transform":[{"filter":"datum.d === 'Penn94'"}],
 "encoding":{"x":{"field":"x","type":"quantitative","scale":{"domain":[-0.045,0.945],"nice":false,"zero":false},"axis":{"values":[0,0.2,0.4,0.6,0.8],"format":".1f","title":"Metric NC"}},
  "y":{"field":"a","type":"quantitative","scale":{"domain":[0,1.05],"nice":false,"zero":false},"axis":{"values":[0,0.2,0.4,0.6,0.8,1],"format":".1f","title":null}},
  "color":{"field":"m","type":"nominal","scale":{"domain":["NCGCN","GCN","GAT","GPRGNN"],"range":["#F2C244","#78AA3A","#8FB2DD","#1E2A1E"]},"legend":null}},
 "layer":[{"mark":{"type":"line","strokeWidth":1.5},"encoding":{"color":{"field":"m","type":"nominal","scale":{"domain":["NCGCN","GCN","GAT","GPRGNN"],"range":["#F2C244","#78AA3A","#8FB2DD","#1E2A1E"]},"legend":{"title":null}}}},
  {"transform":[{"filter":"datum.m === 'NCGCN' || datum.m === 'GAT'"}],"mark":{"type":"point","shape":"square"}},
  {"transform":[{"filter":"datum.m === 'GCN'"}],"mark":{"type":"point","shape":"triangle-down","size":22}},
  {"transform":[{"filter":"datum.m === 'GPRGNN'"}],"mark":{"type":"point","shape":"M-1,-0.55L-0.55,-1L0,-0.45L0.55,-1L1,-0.55L0.45,0L1,0.55L0.55,1L0,0.45L-0.55,1L-1,0.55L-0.45,0Z"}}]},
{"title":"Chameleon Filtered","width":143,"height":105,"transform":[{"filter":"datum.d === 'Chameleon Filtered'"}],
 "encoding":{"x":{"field":"x","type":"quantitative","scale":{"domain":[-0.045,0.945],"nice":false,"zero":false},"axis":{"values":[0,0.2,0.4,0.6,0.8],"format":".1f","title":"Metric NC"}},
  "y":{"field":"a","type":"quantitative","scale":{"domain":[0,1.05],"nice":false,"zero":false},"axis":{"values":[0,0.2,0.4,0.6,0.8,1],"format":".1f","title":null}},
  "color":{"field":"m","type":"nominal","scale":{"domain":["NCGCN","GCN","GAT","GPRGNN"],"range":["#F2C244","#78AA3A","#8FB2DD","#1E2A1E"]},"legend":null}},
 "layer":[{"mark":{"type":"line","strokeWidth":1.5},"encoding":{"color":{"field":"m","type":"nominal","scale":{"domain":["NCGCN","GCN","GAT","GPRGNN"],"range":["#F2C244","#78AA3A","#8FB2DD","#1E2A1E"]},"legend":{"title":null}}}},
  {"transform":[{"filter":"datum.m === 'NCGCN' || datum.m === 'GAT'"}],"mark":{"type":"point","shape":"square"}},
  {"transform":[{"filter":"datum.m === 'GCN'"}],"mark":{"type":"point","shape":"triangle-down","size":22}},
  {"transform":[{"filter":"datum.m === 'GPRGNN'"}],"mark":{"type":"point","shape":"M-1,-0.55L-0.55,-1L0,-0.45L0.55,-1L1,-0.55L0.45,0L1,0.55L0.55,1L0,0.45L-0.55,1L-1,0.55L-0.45,0Z"}}]},
{"title":"Squirrel Filtered","width":143,"height":105,"transform":[{"filter":"datum.d === 'Squirrel Filtered'"}],
 "encoding":{"x":{"field":"x","type":"quantitative","scale":{"domain":[-0.045,0.945],"nice":false,"zero":false},"axis":{"values":[0,0.2,0.4,0.6,0.8],"format":".1f","title":"Metric NC"}},
  "y":{"field":"a","type":"quantitative","scale":{"domain":[0,1.05],"nice":false,"zero":false},"axis":{"values":[0,0.2,0.4,0.6,0.8,1],"format":".1f","title":null}},
  "color":{"field":"m","type":"nominal","scale":{"domain":["NCGCN","GCN","GAT","GPRGNN"],"range":["#F2C244","#78AA3A","#8FB2DD","#1E2A1E"]},"legend":null}},
 "layer":[{"mark":{"type":"line","strokeWidth":1.5},"encoding":{"color":{"field":"m","type":"nominal","scale":{"domain":["NCGCN","GCN","GAT","GPRGNN"],"range":["#F2C244","#78AA3A","#8FB2DD","#1E2A1E"]},"legend":{"title":null}}}},
  {"transform":[{"filter":"datum.m === 'NCGCN' || datum.m === 'GAT'"}],"mark":{"type":"point","shape":"square"}},
  {"transform":[{"filter":"datum.m === 'GCN'"}],"mark":{"type":"point","shape":"triangle-down","size":22}},
  {"transform":[{"filter":"datum.m === 'GPRGNN'"}],"mark":{"type":"point","shape":"M-1,-0.55L-0.55,-1L0,-0.45L0.55,-1L1,-0.55L0.45,0L1,0.55L0.55,1L0,0.45L-0.55,1L-1,0.55L-0.45,0Z"}}]}
]
}
